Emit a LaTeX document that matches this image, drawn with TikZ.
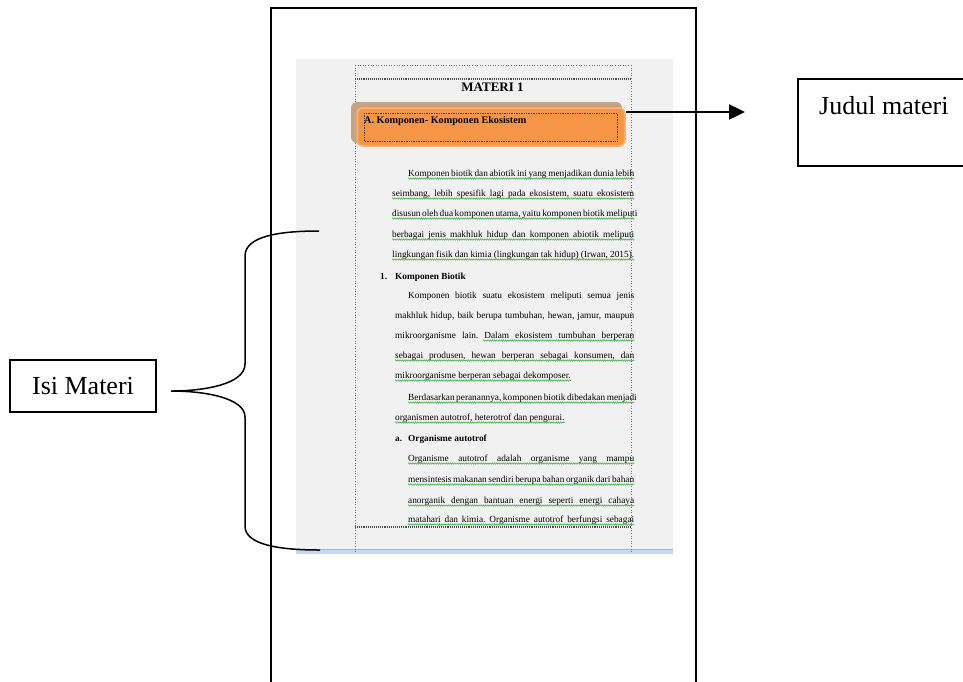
\documentclass[tikz,border=0pt]{standalone}
\usepackage{fontspec}
\setmainfont{Liberation Serif}
\usetikzlibrary{arrows.meta,decorations.pathmorphing}
\frenchspacing
\definecolor{orangebox}{HTML}{F79646}
\definecolor{orangeedge}{HTML}{FAB27A}
\definecolor{shadowtan}{HTML}{C9A282}
\definecolor{screengray}{HTML}{F1F1F1}
\definecolor{stripblue}{HTML}{C8D8EE}
\definecolor{stripline}{HTML}{9DB5D6}
\definecolor{dotgray}{HTML}{777777}
\definecolor{ulgreen}{HTML}{4FB04F}
\tikzset{
  body/.style={inner sep=0pt, font=\fontsize{9.3}{10}\selectfont, anchor=base west},
  bodyb/.style={body, font=\fontsize{9.3}{10}\selectfont\bfseries},
  greenul/.style={draw=ulgreen, line width=0.6pt, decorate, decoration={snake, amplitude=0.7pt, segment length=2.2pt}},
  pagedot/.style={draw=dotgray, line width=0.6pt, dotted},
  pagedotdark/.style={draw=black!70, line width=1.1pt, densely dotted},
  labelbox/.style={draw=black, line width=1.4pt, inner sep=0pt, font=\fontsize{26}{28}\selectfont},
  frameline/.style={draw=black, line width=1.8pt},
  bracestyle/.style={draw=black, line width=1.5pt},
}
\begin{document}
\begin{tikzpicture}[x=1pt,y=-1pt]
\useasboundingbox (0,0) rectangle (963,681);
% phone / page frame
\draw[frameline] (271,690) -- (271,8) -- (696,8) -- (696,690);
% screenshot background
\fill[screengray] (296,59) rectangle (673,549);
\fill[stripblue] (296,549) rectangle (673,554);
\draw[stripline, line width=0.6pt] (296,549.3) -- (673,549.3);
% page guides
\draw[pagedot] (355,65) -- (631,65);
\draw[pagedot] (355,65) -- (355,552);
\draw[pagedot] (631,65) -- (631,552);
\draw[pagedotdark] (355,79) -- (631,79);
\draw[pagedotdark] (355,527) -- (631,527);
% title
\node[inner sep=0pt, font=\fontsize{13}{14}\selectfont\bfseries, anchor=base] (materi) at (492.5,91.5) {MATERI 1};
% orange heading box
\fill[shadowtan, rounded corners=6pt] (351,102) rectangle (622,143);
\node[draw=orangeedge, fill=orangebox, line width=1.5pt, rounded corners=6pt, minimum width=268pt, minimum height=38pt, inner sep=0pt] (heading) at (491,127) {};
\draw[draw=black!75, line width=0.7pt, densely dotted] (364,113) rectangle (617,141);
\node[inner sep=0pt, font=\fontsize{10.2}{12}\selectfont\bfseries, anchor=base west] (headtext) at (364,123.5) {A. Komponen- Komponen Ekosistem};
% paragraph 1
\node[body] (l1) at (408,176) {\makebox[226pt][s]{Komponen biotik dan abiotik ini yang menjadikan dunia lebih}};
\node[body] (l2) at (392,196) {\makebox[242pt][s]{seimbang, lebih spesifik lagi pada ekosistem, suatu ekosistem}};
\node[body] (l3) at (392,216) {\makebox[242pt][s]{disusun oleh dua komponen utama, yaitu komponen biotik meliputi}};
\node[body] (l4) at (392,237) {\makebox[242pt][s]{berbagai jenis makhluk hidup dan komponen abiotik meliputi}};
\node[body] (l5) at (392,257) {\makebox[242pt][s]{lingkungan fisik dan kimia (lingkungan tak hidup) (Irwan, 2015).}};
\node[bodyb] (h1n) at (380,279) {1.};
\node[bodyb] (h1) at (395,279) {Komponen Biotik};
% paragraph 2
\node[body] (l6) at (408,298) {\makebox[226pt][s]{Komponen biotik suatu ekosistem meliputi semua jenis}};
\node[body] (l7) at (395,318) {\makebox[239pt][s]{makhluk hidup, baik berupa tumbuhan, hewan, jamur, maupun}};
\node[body] (l8) at (395,338) {\makebox[239pt][s]{mikroorganisme lain. Dalam ekosistem tumbuhan berperan}};
\node[body] (l9) at (395,358) {\makebox[239pt][s]{sebagai produsen, hewan berperan sebagai konsumen, dan}};
\node[body] (l10) at (395,378) {mikroorganisme berperan sebagai dekomposer.};
\node[body] (l11) at (408,400) {\makebox[226pt][s]{Berdasarkan peranannya, komponen biotik dibedakan menjadi}};
\node[body] (l12) at (395,420) {organismen autotrof, heterotrof dan pengurai.};
\node[bodyb] (han) at (395,441) {a.};
\node[bodyb] (ha) at (408,441) {Organisme autotrof};
% paragraph 3
\node[body] (l13) at (408,461) {\makebox[226pt][s]{Organisme autotrof adalah organisme yang mampu}};
\node[body] (l14) at (408,482) {\makebox[226pt][s]{mensintesis makanan sendiri berupa bahan organik dari bahan}};
\node[body] (l15) at (408,503) {\makebox[226pt][s]{anorganik dengan bantuan energi seperti energi cahaya}};
\node[body] (l16) at (408,522) {\makebox[226pt][s]{matahari dan kimia. Organisme autotrof berfungsi sebagai}};
% green grammar underlines
\foreach \n in {l1,l2,l3,l4,l5,l9,l10,l11,l12,l13,l14,l15,l16}{
  \draw[greenul] ([yshift=-2.5pt]\n.base west) -- ([yshift=-2.5pt]\n.base east);
}
\coordinate (dalam) at (483,338);
\draw[greenul] ([yshift=-2.5pt]dalam) -- ([yshift=-2.5pt]l8.base east);
% Judul materi label
\draw[line width=1.8pt] (964,79) -- (798,79) -- (798,166) -- (964,166);
\node[inner sep=0pt, font=\fontsize{26}{28}\selectfont, anchor=base west] (judul) at (819,114) {Judul materi};
\coordinate (arrowstart) at (626,112);
\coordinate (arrowend) at (745,112);
\draw[line width=2.4pt, -{Triangle[length=16pt,width=15pt]}] (arrowstart) -- (arrowend);
% Isi Materi label and brace
\node[labelbox, minimum width=146pt, minimum height=52pt] (isi) at (83,386) {Isi Materi};
\coordinate (bracetip) at (171,391);
\coordinate (bracetop) at (319,231);
\coordinate (bracebot) at (320,550);
\draw[bracestyle] (bracetop) .. controls (280,231) and (245,236) .. (245,256)
  -- (245,364) .. controls (245,384) and (205,391) .. (bracetip)
  .. controls (205,391) and (245,398) .. (245,417)
  -- (245,526) .. controls (245,545) and (280,550) .. (bracebot);
\end{tikzpicture}
\end{document}
